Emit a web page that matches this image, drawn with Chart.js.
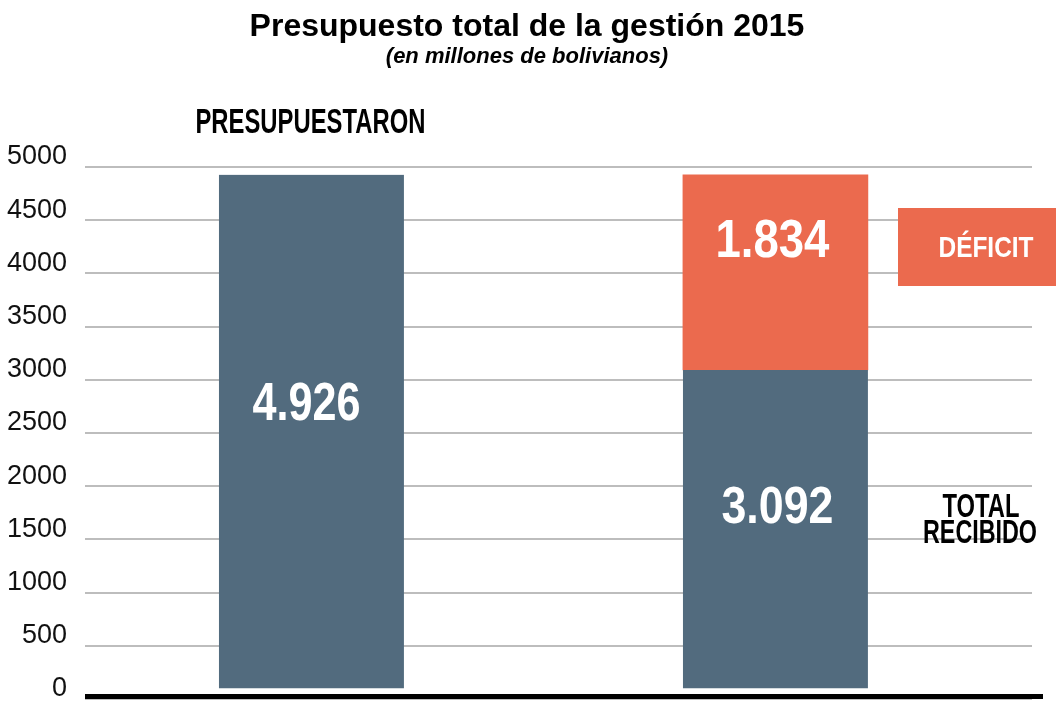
<!DOCTYPE html>
<html><head><meta charset="utf-8">
<script src="https://cdn.jsdelivr.net/npm/chart.js@4.4.0/dist/chart.umd.min.js"></script>
<style>html,body{margin:0;padding:0;background:#fff;}#wrap{width:1056px;height:707px;}</style>
</head><body><div id="wrap"><canvas id="c" width="1056" height="707"></canvas></div>
<script>
// ---- data ----
const categories = ['PRESUPUESTARON', 'TOTAL RECIBIDO'];
const recibido = [4926, 3092];
const deficit = [null, 1834];
const yMin = 0, yMax = 5000, yStep = 500;
const titleText = 'Presupuesto total de la gestión 2015';
const subtitleText = '(en millones de bolivianos)';
const deficitLabel = 'DÉFICIT';

const BLUE = '#526b7e', ORANGE = '#eb6a4e';
const FONT = '"Liberation Sans", Arial, Helvetica, sans-serif';

function fmt(v){ return String(v).replace(/\B(?=(\d{3})+(?!\d))/g, '.'); }

function condText(ctx, text, cx, baseline, size, width, color){
  ctx.save();
  ctx.font = 'bold ' + size + 'px ' + FONT;
  const w = ctx.measureText(text).width;
  ctx.translate(cx, baseline);
  ctx.scale(width / w, 1);
  ctx.textAlign = 'center';
  ctx.textBaseline = 'alphabetic';
  ctx.fillStyle = color;
  ctx.fillText(text, 0, 0);
  ctx.restore();
}

const annot = {
  id: 'annot',
  afterDatasetsDraw(chart){
    const {ctx, chartArea, scales:{y}} = chart;
    const m0 = chart.getDatasetMeta(0);
    ctx.save();
    // baseline
    const y0 = y.getPixelForValue(0);
    ctx.fillStyle = '#000';
    ctx.fillRect(chartArea.left, y0 - 5, 1043 - chartArea.left, 5);
    // titles
    ctx.textAlign = 'center';
    ctx.textBaseline = 'alphabetic';
    ctx.fillStyle = '#000';
    ctx.font = 'bold 32px ' + FONT;
    ctx.fillText(titleText, 527, 36);
    ctx.font = 'italic bold 22px ' + FONT;
    ctx.fillText(subtitleText, 527, 63);
    ctx.restore();
    // category labels
    const x0 = m0.data[0].x, x1 = m0.data[1].x;
    condText(ctx, categories[0], x0 - 1, 133, 35, 230, '#000');
    const parts = categories[1].split(' ');
    condText(ctx, parts[0], 981, 517, 33, 77, '#000');
    condText(ctx, parts[1], 980, 543, 33, 114, '#000');
    // value labels
    condText(ctx, fmt(recibido[0]), x0 - 5, 420, 53, 108, '#fff');
    condText(ctx, fmt(recibido[1]), x1 + 2, 523, 51, 112, '#fff');
    condText(ctx, fmt(deficit[1]), x1 - 3, 257, 53, 114, '#fff');
    // deficit legend box
    ctx.save();
    ctx.fillStyle = ORANGE;
    ctx.fillRect(898, 208, 170, 78);
    ctx.restore();
    condText(ctx, deficitLabel, 986, 257, 30, 95, '#fff');
  }
};

new Chart(document.getElementById('c'), {
  type: 'bar',
  data: {
    datasets: [
      { label: 'Recibido', data: recibido.map((v,i)=>({x:i, y:v})), backgroundColor: BLUE, barThickness: 185,
        borderColor: '#fff', borderWidth: { top: 0, left: 0, right: 0, bottom: 10 }, borderSkipped: false },
      { label: 'Déficit', data: deficit.map((v,i)=>({x:i, y:v})), backgroundColor: ORANGE, barThickness: 185 }
    ]
  },
  options: {
    responsive: false,
    animation: false,
    devicePixelRatio: 1,
    layout: { padding: { top: 167, right: 24, bottom: 8, left: 0 } },
    plugins: { legend: { display: false }, tooltip: { enabled: false }, title: { display: false } },
    scales: {
      x: { type: 'linear', stacked: true, display: false, offset: false, min: -0.488, max: 1.553 },
      y: {
        stacked: true, min: yMin, max: yMax,
        afterFit(s){ s.width = 85; s.paddingTop = 0; s.paddingBottom = 0; },
        border: { display: false },
        grid: { color: '#bdbdbd', lineWidth: 2, drawTicks: false },
        ticks: { stepSize: yStep, padding: 18, labelOffset: -10, color: '#111',
                 callback: (v) => String(v),
                 font: { family: FONT, size: 27 } }
      }
    }
  },
  plugins: [annot]
});
</script></body></html>
